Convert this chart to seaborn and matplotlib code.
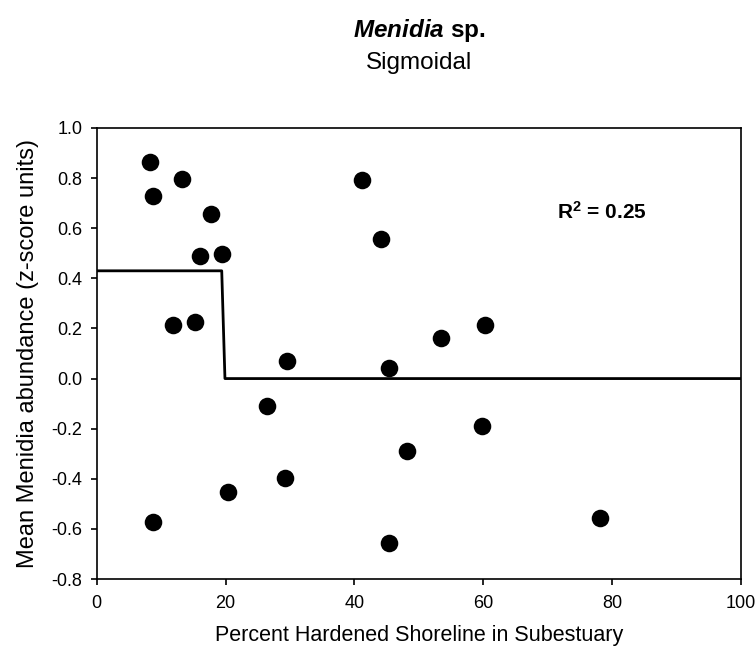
import matplotlib
matplotlib.use("Agg")
import matplotlib.pyplot as plt
import seaborn as sns
import pandas as pd

sns.set_theme(style="ticks")
plt.rcParams['font.family'] = ['Liberation Sans', 'DejaVu Sans']
plt.rcParams['text.color'] = 'black'
plt.rcParams['axes.labelcolor'] = 'black'
plt.rcParams['xtick.color'] = 'black'
plt.rcParams['ytick.color'] = 'black'
plt.rcParams['mathtext.fontset'] = 'custom'
plt.rcParams['mathtext.rm'] = 'Liberation Sans'
plt.rcParams['mathtext.it'] = 'Liberation Sans:italic'
plt.rcParams['mathtext.bf'] = 'Liberation Sans:bold'
plt.rcParams['mathtext.bfit'] = 'Liberation Sans:italic:bold'

# data
pct_hardened = [8.2, 8.8, 13.3, 17.7, 16.1, 19.4, 11.9, 15.3, 8.8, 20.3, 26.5,
                29.5, 29.3, 41.2, 44.2, 45.4, 45.3, 48.2, 53.5, 60.2, 59.8, 78.1]
abundance = [0.864, 0.729, 0.797, 0.657, 0.489, 0.497, 0.213, 0.226, -0.573, -0.453, -0.11,
             0.07, -0.397, 0.792, 0.557, 0.043, -0.656, -0.289, 0.162, 0.213, -0.19, -0.556]
fit_x = [0, 19.4, 19.9, 100]
fit_y = [0.43, 0.43, 0.0, 0.0]
x_ticks = [0, 20, 40, 60, 80, 100]
y_ticks = [-0.8, -0.6, -0.4, -0.2, 0.0, 0.2, 0.4, 0.6, 0.8, 1.0]

df = pd.DataFrame({"x": pct_hardened, "y": abundance})
fit = pd.DataFrame({"x": fit_x, "y": fit_y})

fig = plt.figure(figsize=(7.56, 6.58), dpi=100)
ax = fig.add_axes([0.128, 0.120, 0.852, 0.6855])

sns.lineplot(data=fit, x="x", y="y", ax=ax, color="black", linewidth=2, sort=False,
             estimator=None)
sns.scatterplot(data=df, x="x", y="y", ax=ax, color="black", s=160, edgecolor="black",
                linewidth=0, zorder=3)

ax.set_xlim(0, 100)
ax.set_ylim(-0.8, 1.0)
ax.set_xticks(x_ticks)
ax.set_xticklabels([str(t) for t in x_ticks])
ax.set_yticks(y_ticks)
ax.set_yticklabels([f"{t:.1f}" for t in y_ticks])
ax.tick_params(direction="out", length=4.5, width=1.2, color="black", labelsize=13,
               top=False, right=False)
ax.tick_params(axis="y", pad=6)
ax.tick_params(axis="x", pad=7)
for sp in ax.spines.values():
    sp.set_visible(True)
    sp.set_color("black")
    sp.set_linewidth(1.2)

ax.set_xlabel("Percent Hardened Shoreline in Subestuary", fontsize=15.5, labelpad=9)
ax.set_ylabel("Mean Menidia abundance (z-score units)", fontsize=17, labelpad=9)

ax.text(71.5, 0.665, r"R$^\mathbf{2}$ = 0.25", fontsize=15, fontweight="bold",
        va="center", ha="left")

fig.text(0.554, 0.954, r"$\bfit{Menidia}$ sp.", ha="center", va="center",
         fontsize=17.5, fontweight="bold")
fig.text(0.554, 0.904, "Sigmoidal", ha="center", va="center", fontsize=17.5)

fig.savefig("out.png", dpi=100)
